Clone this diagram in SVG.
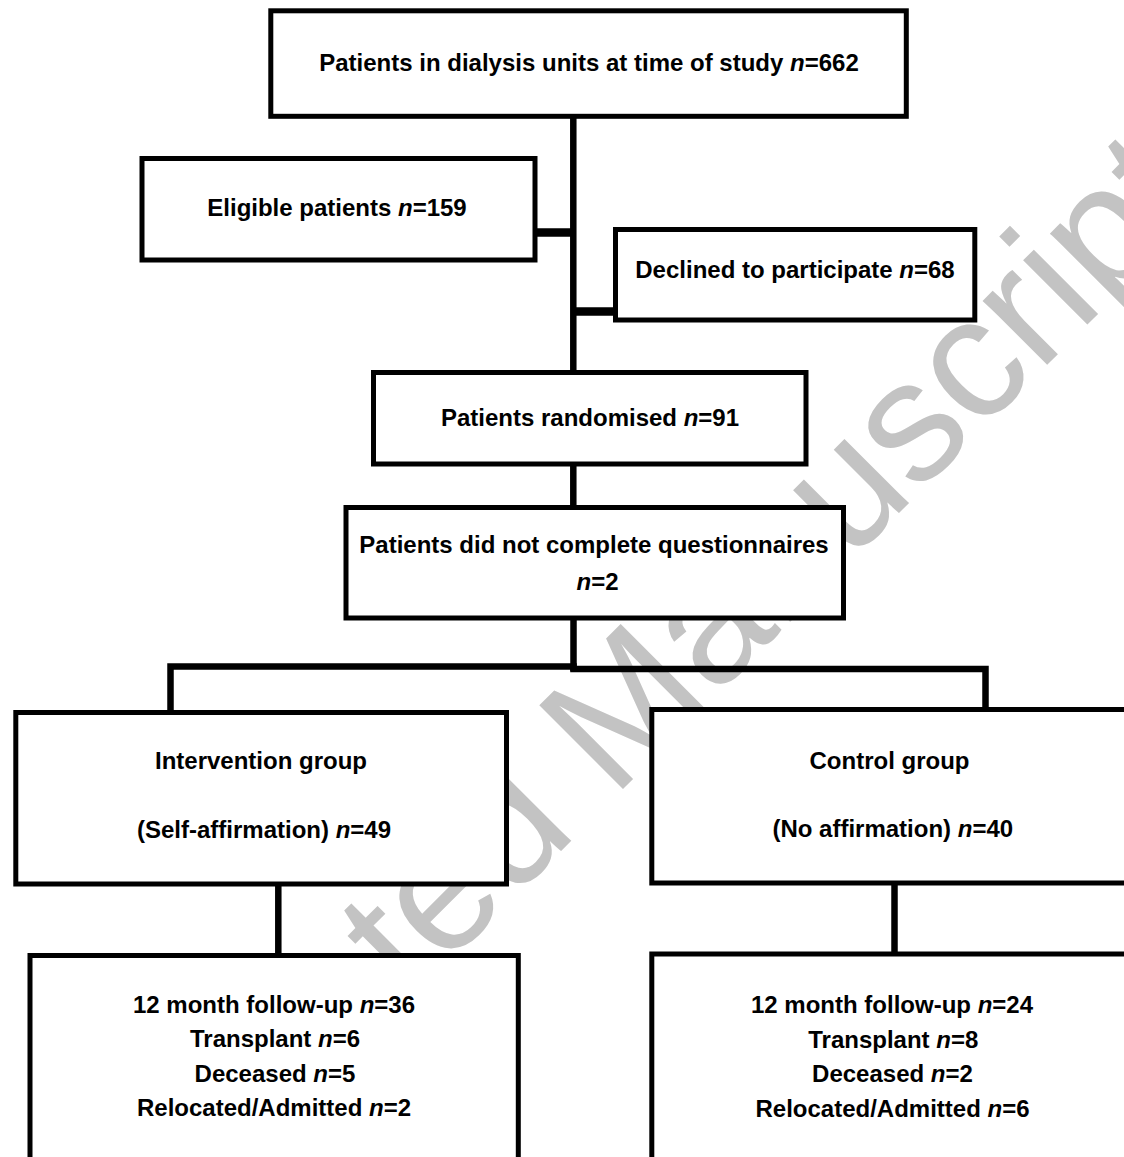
<svg xmlns="http://www.w3.org/2000/svg" width="1124" height="1157" viewBox="0 0 1124 1157">
<style>
.bg{fill:#ffffff}
.wm{font-family:"Liberation Sans",Arial,sans-serif;font-size:172px;fill:#c3c3c3}
.box{fill:#ffffff;stroke:#000000;stroke-width:5}
.ln{stroke:#000000;stroke-width:6.5;fill:none;stroke-linecap:square}
.stub{stroke:#000000;stroke-width:8.5;fill:none}
.t{font-family:"Liberation Sans",Arial,sans-serif;font-size:24px;font-weight:bold;fill:#000000;text-anchor:middle}
.i{font-style:italic}
</style>
<rect class="bg" x="0" y="0" width="1124" height="1157"/>
<text class="wm" transform="translate(72,1340) rotate(-45)" x="0" y="0">Accepted Manuscript</text>
<g id="connectors">
  <line class="ln" x1="573.3" y1="116" x2="573.3" y2="372"/>
  <line class="stub" x1="535" y1="232.5" x2="573.3" y2="232.5"/>
  <line class="stub" x1="573.3" y1="311.5" x2="615.5" y2="311.5"/>
  <line class="ln" x1="573.3" y1="464" x2="573.3" y2="507"/>
  <line class="ln" x1="573.5" y1="618" x2="573.5" y2="668"/>
  <polyline class="ln" points="170.5,712 170.5,666.5 573.5,666.5"/>
  <polyline class="ln" points="573.5,669 985.5,669 985.5,709"/>
  <line class="ln" x1="278.3" y1="884" x2="278.3" y2="955"/>
  <line class="ln" x1="894.5" y1="883" x2="894.5" y2="954"/>
</g>
<g id="n-total">
  <rect class="box" x="270.8" y="10.8" width="635.5" height="105.5"/>
  <text class="t" x="589" y="71">Patients in dialysis units at time of study <tspan class="i">n</tspan>=662</text>
</g>
<g id="n-eligible">
  <rect class="box" x="142" y="158.5" width="393" height="101.5"/>
  <text class="t" x="337" y="215.5">Eligible patients <tspan class="i">n</tspan>=159</text>
</g>
<g id="n-declined">
  <rect class="box" x="615.5" y="229.5" width="359.3" height="90.5"/>
  <text class="t" x="795" y="278">Declined to participate <tspan class="i">n</tspan>=68</text>
</g>
<g id="n-randomised">
  <rect class="box" x="373.5" y="372.5" width="432.5" height="91.5"/>
  <text class="t" x="590" y="426">Patients randomised <tspan class="i">n</tspan>=91</text>
</g>
<g id="n-questionnaires">
  <rect class="box" x="346" y="507.5" width="497.5" height="110.5"/>
  <text class="t" x="594" y="552.5">Patients did not complete questionnaires</text>
  <text class="t" x="597.5" y="590"><tspan class="i">n</tspan>=2</text>
</g>
<g id="n-intervention">
  <rect class="box" x="15.8" y="712.5" width="490.7" height="171.5"/>
  <text class="t" x="261" y="769">Intervention group</text>
  <text class="t" x="264" y="837.5">(Self-affirmation) <tspan class="i">n</tspan>=49</text>
</g>
<g id="n-control">
  <rect class="box" x="651.8" y="709.5" width="480" height="173.5"/>
  <text class="t" x="889.5" y="768.5">Control group</text>
  <text class="t" x="892.8" y="837">(No affirmation) <tspan class="i">n</tspan>=40</text>
</g>
<g id="n-followup-intervention">
  <rect class="box" x="30" y="955.5" width="488.3" height="230"/>
  <text class="t" x="274" y="1012.5">12 month follow-up <tspan class="i">n</tspan>=36</text>
  <text class="t" x="275" y="1047">Transplant <tspan class="i">n</tspan>=6</text>
  <text class="t" x="275" y="1081.5">Deceased <tspan class="i">n</tspan>=5</text>
  <text class="t" x="274" y="1116">Relocated/Admitted <tspan class="i">n</tspan>=2</text>
</g>
<g id="n-followup-control">
  <rect class="box" x="651.8" y="954" width="480" height="230"/>
  <text class="t" x="892" y="1013.3">12 month follow-up <tspan class="i">n</tspan>=24</text>
  <text class="t" x="893.3" y="1047.5">Transplant <tspan class="i">n</tspan>=8</text>
  <text class="t" x="892.5" y="1082.3">Deceased <tspan class="i">n</tspan>=2</text>
  <text class="t" x="892.5" y="1116.7">Relocated/Admitted <tspan class="i">n</tspan>=6</text>
</g>
</svg>
